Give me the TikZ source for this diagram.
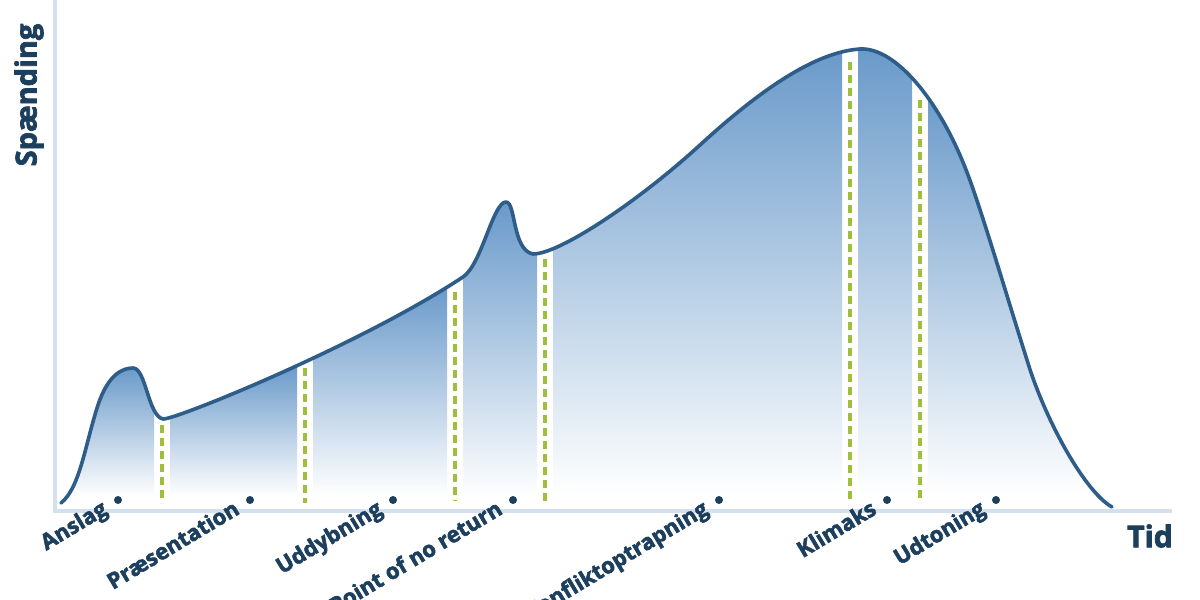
\documentclass[tikz,border=0pt]{standalone}
\usepackage{fontspec}
\setmainfont{Open Sans}[BoldFeatures={FakeBold=2.5}]
\definecolor{navy}{HTML}{1D3F5E}
\definecolor{curveblue}{HTML}{2E5D89}
\definecolor{fillblue}{HTML}{6A9ACA}
\definecolor{axisblue}{HTML}{D3E0EF}
\definecolor{dashgreen}{HTML}{9EBF3C}
\tikzset{
  lbl/.style={rotate=31, anchor=base east, inner sep=0pt, text=navy, font=\bfseries\fontsize{22}{22}\selectfont},
  dashline/.style={draw=dashgreen, line width=3.4pt, dash pattern=on 8pt off 5pt},
  axisline/.style={draw=axisblue, line width=4.5pt},
  curveline/.style={draw=curveblue, line width=3.6pt, line cap=round, line join=round},
}
\def\curve{(61,503) .. controls (80,488) and (85,445) .. (98,405) .. controls (108,375) and (122,368) .. (133,368) .. controls (146,368) and (148,416) .. (163,419) .. controls (175,420) and (360,345) .. (463,277) .. controls (482,264) and (493,202) .. (506,202) .. controls (516,202) and (512,250) .. (533,254) .. controls (560,254) and (640,200) .. (700,145) .. controls (760,90) and (815,52) .. (860,49) .. controls (895,47) and (940,100) .. (968,175) .. controls (982,212) and (1008,300) .. (1027,360) .. controls (1045,420) and (1085,492) .. (1112,507)}
\newcommand\segfill[3]{%
  \begin{scope}
    \clip \curve -- (1112,511) -- (61,511) -- cycle;
    \shade[top color=fillblue, bottom color=white] (#1,#3) rectangle (#2,496);
    \fill[white] (#1,496) rectangle (#2,512);
  \end{scope}}
\begin{document}
\begin{tikzpicture}[x=1pt,y=-1pt]
\useasboundingbox (0,0) rectangle (1200,600);
\clip (0,0) rectangle (1200,600);
\fill[white] (0,0) rectangle (1200,600);
% segment fills
\segfill{55}{154}{368}
\segfill{170}{297}{366}
\segfill{313}{447}{287}
\segfill{463}{537}{204}
\segfill{553}{842}{52}
\segfill{858}{912}{50}
\segfill{928}{1120}{90}
% dashed markers
\coordinate (d1t) at (162,425); \coordinate (d1b) at (162,503);
\coordinate (d2t) at (305,368); \coordinate (d2b) at (305,503);
\coordinate (d3t) at (455,292); \coordinate (d3b) at (455,501);
\coordinate (d4t) at (545,259); \coordinate (d4b) at (545,503);
\coordinate (d5t) at (850,62);  \coordinate (d5b) at (850,503);
\coordinate (d6t) at (920,100); \coordinate (d6b) at (920,503);
\foreach \i in {1,...,6} \draw[dashline] (d\i t) -- (d\i b);
% axes
\coordinate (ytop) at (55,0);
\coordinate (origin) at (55,511);
\coordinate (xend) at (1172,511);
\draw[axisline] (ytop) -- (origin) -- (xend);
% curve
\draw[curveline] \curve;
% labels and dots
\foreach \x/\t [count=\k] in {118/Anslag, 250/Præsentation, 393/Uddybning, 513/Point of no return, 719/Konfliktoptrapning, 887/Klimaks, 996/Udtoning}{
  \fill[navy] (\x,500) circle (4pt);
  \node[lbl] (lab\k) at (\x-9,513) {\t};
}
\node[text=navy, font=\bfseries\fontsize{30}{30}\selectfont] (tid) at (1150,536) {Tid};
\node[text=navy, rotate=90, font=\bfseries\fontsize{29}{29}\selectfont] (spaend) at (29,95) {Spænding};
\end{tikzpicture}
\end{document}
